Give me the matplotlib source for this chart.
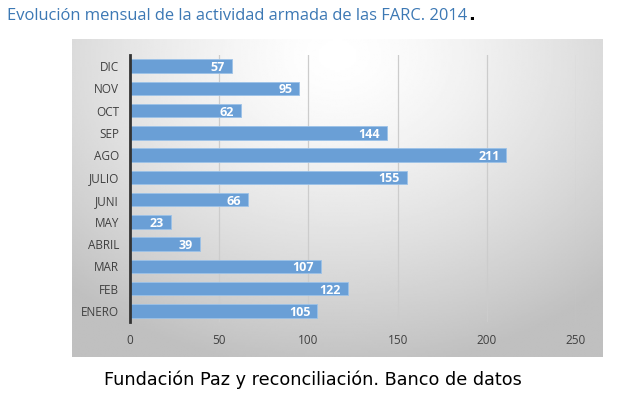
import numpy as np
import matplotlib.pyplot as plt

# data
months = ["ENERO", "FEB", "MAR", "ABRIL", "MAY", "JUNI",
          "JULIO", "AGO", "SEP", "OCT", "NOV", "DIC"]
counts = [105, 122, 107, 39, 23, 66, 155, 211, 144, 62, 95, 57]
xticks = [0, 50, 100, 150, 200, 250]

W, H = 623, 397
fig = plt.figure(figsize=(W / 100, H / 100), dpi=100)

# gradient chart box
box = fig.add_axes([72 / W, 1 - 357 / H, (603 - 72) / W, (357 - 39) / H], zorder=0)
gx, gy = np.meshgrid(np.linspace(0, 1, 300), np.linspace(0, 1, 200))
r = np.sqrt(((gx - 0.5) / 0.75) ** 2 + ((gy - 0.05) / 1.0) ** 2)
shade = 1 - 0.25 * np.clip(r, 0, 1) ** 1.4
box.imshow(shade, cmap="gray", vmin=0, vmax=1, aspect="auto",
           extent=[0, 1, 1, 0], interpolation="bilinear")
box.set_axis_off()

ax = fig.add_axes([130 / W, 1 - 322 / H, (576 - 130) / W, (322 - 55) / H], zorder=1)
ax.patch.set_alpha(0)
y = np.arange(len(months))
ax.barh(y, counts, height=0.6, color="#6a9fd6", edgecolor="#9cc2e8",
        linewidth=0.6, zorder=3)
for yi, v in zip(y, counts):
    ax.annotate(str(v), (v, yi), xytext=(-5, -1), textcoords="offset points",
                ha="right", va="center", color="white", fontweight="bold",
                fontsize=9, family="Open Sans", zorder=4)

ax.set_xlim(0, 250)
ax.set_ylim(-0.5, len(months) - 0.5)
ax.set_yticks(y)
ax.set_yticklabels(months, fontsize=8.5, color="#404040", family="Open Sans")
ax.set_xticks(xticks)
ax.set_xticklabels([str(t) for t in xticks], fontsize=8.5, color="#404040",
                   family="Open Sans")
ax.tick_params(length=0)
ax.tick_params(axis="y", pad=8)
ax.tick_params(axis="x", pad=9)
ax.grid(axis="x", color="#cccccc", linewidth=0.9, zorder=0)
for s in ["top", "right", "bottom"]:
    ax.spines[s].set_visible(False)
ax.spines["left"].set_color("#333333")
ax.spines["left"].set_linewidth(2)
ax.spines["left"].set_zorder(5)

title = fig.text(7 / W, 1 - 16 / H,
                 "Evolución mensual de la actividad armada de las FARC. 2014",
                 color="#3c78b4", fontsize=11.9, family="Open Sans", va="center")
fig.text(0, 0, ".", color="black", fontsize=13, fontweight="bold",
         va="baseline", transform=title.get_transform())
fig.canvas.draw()
bb = title.get_window_extent()
fig.texts[-1].remove()
fig.text(bb.x1 / W + 1 / W, bb.y0 / H + 3.5 / H, ".", color="black", fontsize=13,
         fontweight="bold", va="baseline")
fig.text(313 / W, 1 - 380 / H, "Fundación Paz y reconciliación. Banco de datos",
         color="black", fontsize=12.7, ha="center", va="center")

fig.savefig("out.png", dpi=100)
